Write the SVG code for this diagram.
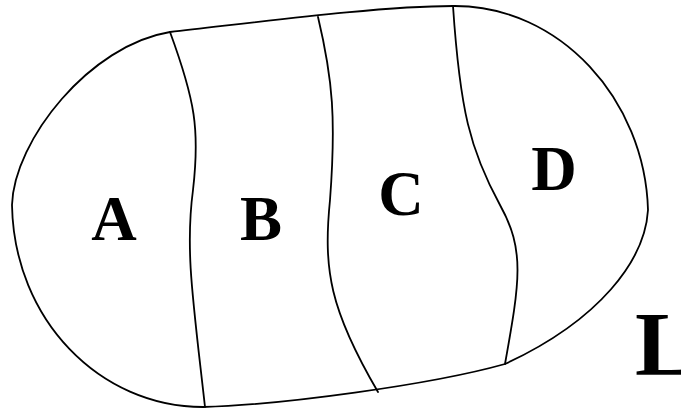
<svg xmlns="http://www.w3.org/2000/svg" width="681" height="409" viewBox="0 0 681 409">
<style>
.ln{fill:none;stroke:#000;stroke-width:1.8;stroke-linejoin:round;stroke-linecap:round}
.lb{font-family:"Liberation Serif","Times New Roman",serif;font-weight:bold;font-size:63px;fill:#000;text-anchor:middle}
</style>
<rect width="681" height="409" fill="#fff"/>
<g id="outline">
<path class="ln" d="M170,32 C260,22 380,6 453,6 C560,5 645,100 648,210 C645,260 600,320 505,364 C430,385 280,405 203,407 C100,407 14,320 12,205 C14,140 90,45 170,32 Z"/>
</g>
<g id="dividers">
<path class="ln" d="M170,32 C195,100 200,130 193,190 C185,250 193,300 205,407"/>
<path class="ln" d="M318,17 C333,80 336,120 330,200 C323,270 330,310 378,392"/>
<path class="ln" d="M453,6 C460,110 470,150 500,205 C525,250 520,280 505,364"/>
</g>
<g id="A"><text class="lb" x="114" y="240">A</text></g>
<g id="B"><text class="lb" x="261" y="240">B</text></g>
<g id="C"><text class="lb" x="401" y="215">C</text></g>
<g id="D"><text class="lb" x="554" y="190">D</text></g>
<g id="L"><text class="lb" x="635" y="375" style="font-size:92px;text-anchor:start">L</text></g>
</svg>
